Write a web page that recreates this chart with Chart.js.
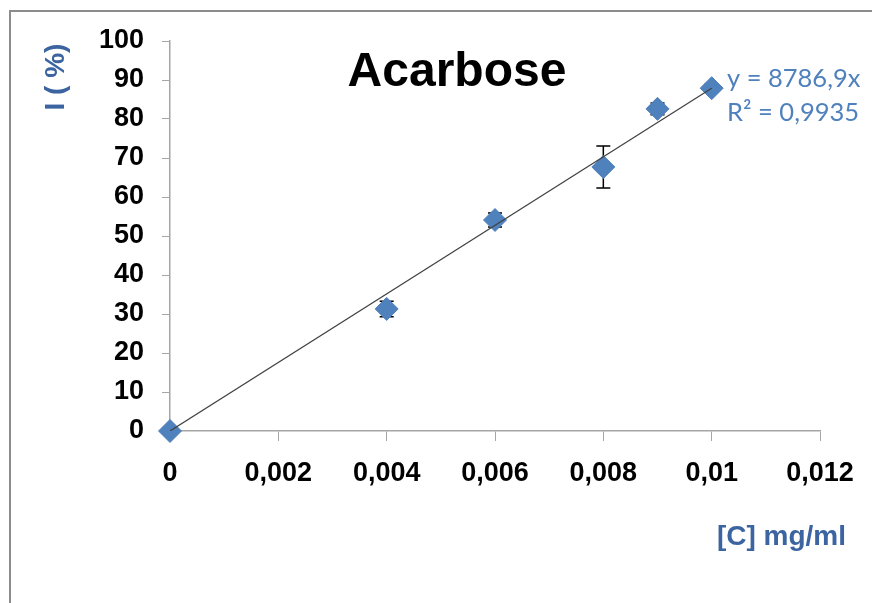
<!DOCTYPE html>
<html lang="pt">
  <head>
    <meta charset="UTF-8" />
    <title>Acarbose</title>
    <script src="https://cdn.jsdelivr.net/npm/chart.js"></script>
    <style>
      html, body { margin: 0; padding: 0; background: #fff; }
      #grafico { display: block; }
    </style>
  </head>
  <body>
    <canvas id="grafico" width="872" height="603"></canvas>

    <script>
      // dados
      const concentracoes = [0, 0.004, 0.006, 0.008, 0.009, 0.01];
      const inibicao = [0, 31.3, 54.1, 67.7, 82.6, 87.9];
      const erroInibicao = [0, 2, 1.8, 5.4, 1.5, 1];
      // linha de tendência (y = 8786,9x) desenhada do 0 até 0,01
      const tendenciaX = [0, 0.01];
      const tendenciaY = [0, 87.87];
      const xTickLabels = ['0', '0,002', '0,004', '0,006', '0,008', '0,01', '0,012'];
      const yTickLabels = ['0', '10', '20', '30', '40', '50', '60', '70', '80', '90', '100'];

      const azulTexto = '#3b64a0';
      const azulMarcador = '#4f81bd';

      // moldura cinza (topo e esquerda)
      const moldura = {
        id: 'moldura',
        beforeDraw(chart) {
          const ctx = chart.ctx;
          ctx.save();
          ctx.fillStyle = '#fff';
          ctx.fillRect(0, 0, chart.width, chart.height);
          ctx.strokeStyle = '#8c8c8c';
          ctx.lineWidth = 2;
          ctx.beginPath();
          ctx.moveTo(chart.width, 11);
          ctx.lineTo(10, 11);
          ctx.lineTo(10, chart.height);
          ctx.stroke();
          ctx.restore();
        }
      };

      // barras de erro (atrás dos marcadores)
      const barrasErro = {
        id: 'barrasErro',
        beforeDatasetsDraw(chart) {
          const ctx = chart.ctx;
          const x = chart.scales.x;
          const y = chart.scales.y;
          ctx.save();
          ctx.strokeStyle = '#000';
          ctx.lineWidth = 1.5;
          concentracoes.forEach((c, i) => {
            const e = erroInibicao[i];
            if (!e) return;
            const px = x.getPixelForValue(c);
            const topo = y.getPixelForValue(inibicao[i] + e);
            const base = y.getPixelForValue(inibicao[i] - e);
            ctx.beginPath();
            ctx.moveTo(px, topo);
            ctx.lineTo(px, base);
            ctx.moveTo(px - 7, topo);
            ctx.lineTo(px + 7, topo);
            ctx.moveTo(px - 7, base);
            ctx.lineTo(px + 7, base);
            ctx.stroke();
          });
          ctx.restore();
        }
      };

      // textos: título, eixos e equação
      const textos = {
        id: 'textos',
        afterDraw(chart) {
          const ctx = chart.ctx;
          ctx.save();
          ctx.fillStyle = '#000';
          ctx.font = 'bold 48px "Liberation Sans", Arial, sans-serif';
          ctx.textAlign = 'center';
          ctx.textBaseline = 'middle';
          ctx.fillText('Acarbose', 457, 73);

          ctx.fillStyle = azulTexto;
          ctx.font = 'bold 28px "Liberation Sans", Arial, sans-serif';
          ctx.textAlign = 'right';
          ctx.fillText('[C] mg/ml', 846, 537);

          ctx.save();
          ctx.translate(56, 77);
          ctx.rotate(-Math.PI / 2);
          ctx.textAlign = 'center';
          ctx.fillText('I ( %)', 0, 0);
          ctx.restore();

          ctx.fillStyle = azulMarcador;
          ctx.font = '25.5px Lato, "Liberation Sans", sans-serif';
          ctx.textAlign = 'left';
          ctx.fillText('y = 8786,9x', 727, 79);
          ctx.fillText('R² = 0,9935', 727, 113);
          ctx.restore();
        }
      };

      const ctx1 = document.getElementById('grafico');

      new Chart(ctx1, {
        type: 'scatter',
        data: {
          datasets: [
            {
              label: 'Linear',
              type: 'line',
              data: tendenciaX.map((v, i) => ({ x: v, y: tendenciaY[i] })),
              borderColor: '#404040',
              borderWidth: 1.2,
              pointRadius: 0,
              fill: false,
              order: 0
            },
            {
              label: 'Acarbose',
              data: concentracoes.map((v, i) => ({ x: v, y: inibicao[i] })),
              pointStyle: 'rectRot',
              pointRadius: 11.5,
              backgroundColor: azulMarcador,
              borderColor: azulMarcador,
              borderWidth: 1,
              clip: false,
              order: 1
            }
          ]
        },
        options: {
          responsive: false,
          animation: false,
          layout: { padding: { top: 41, right: 52, bottom: 0, left: 0 } },
          plugins: {
            legend: { display: false },
            tooltip: { enabled: false }
          },
          scales: {
            x: {
              type: 'linear',
              min: 0,
              max: 0.012,
              afterFit(scale) { scale.height = 172; },
              afterBuildTicks(scale) {
                scale.ticks = xTickLabels.map((t, i) => ({ value: i * 0.002 }));
              },
              ticks: {
                color: '#000',
                padding: 16,
                maxRotation: 0,
                font: { family: '"Liberation Sans", Arial', size: 27, weight: 'bold' },
                callback: (v, i) => xTickLabels[i]
              },
              grid: { drawOnChartArea: false, tickLength: 10, color: '#a6a6a6' },
              border: { color: '#a6a6a6', width: 1.5 }
            },
            y: {
              min: 0,
              max: 100,
              afterFit(scale) { scale.width = 170; },
              afterBuildTicks(scale) {
                scale.ticks = yTickLabels.map(t => ({ value: Number(t) }));
              },
              ticks: {
                color: '#000',
                padding: 18,
                font: { family: '"Liberation Sans", Arial', size: 27, weight: 'bold' },
                callback: (v, i) => yTickLabels[i]
              },
              grid: { drawOnChartArea: false, tickLength: 8, color: '#a6a6a6' },
              border: { color: '#a6a6a6', width: 1.5 }
            }
          }
        },
        plugins: [moldura, barrasErro, textos]
      });
    </script>
  </body>
</html>
